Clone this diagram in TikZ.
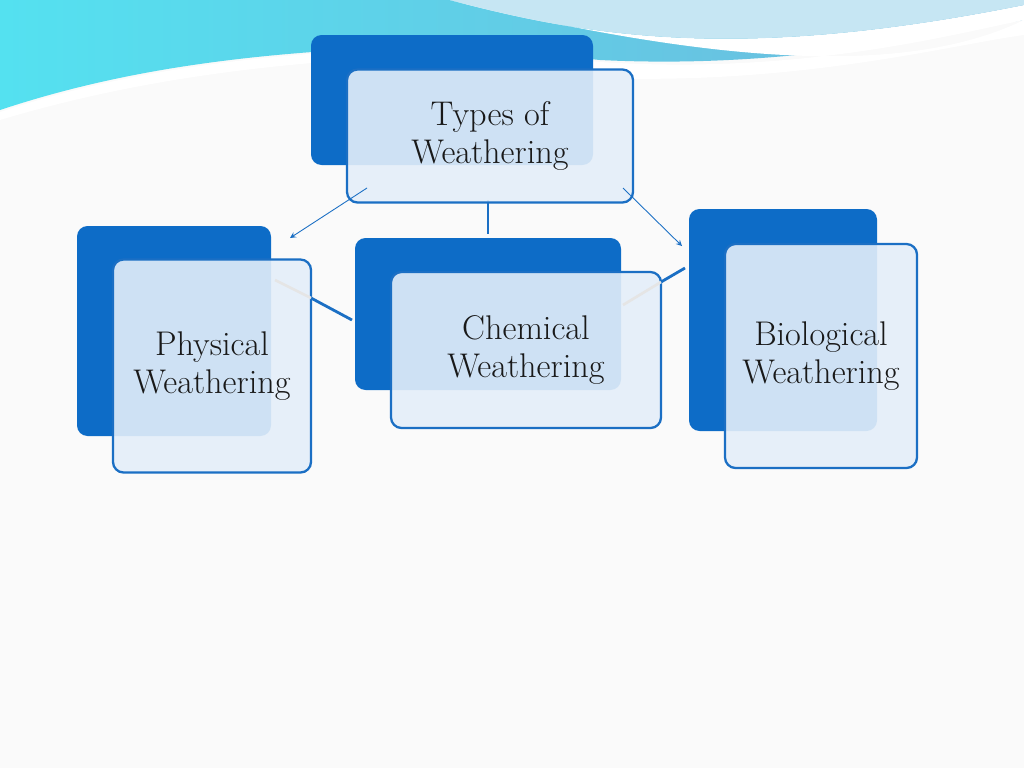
\documentclass[tikz,border=0pt]{standalone}
\usepackage{tikz}
\usetikzlibrary{positioning}
\definecolor{darkbox}{HTML}{0D6CC7}
\definecolor{lightbox}{HTML}{E4EEF9}
\definecolor{edgeblue}{HTML}{1B6FC4}
\definecolor{sky}{HTML}{8CCDE6}
\definecolor{skydeep}{HTML}{6FB8DC}
\tikzset{x=0.02cm, y=-0.02cm,
  back/.style={fill=darkbox, rounded corners=6pt, draw=none},
  front/.style={fill=lightbox, fill opacity=0.9, draw=edgeblue, line width=1.3pt, rounded corners=6pt, text opacity=1},
  label/.style={font=\fontsize{19.5}{22}\selectfont, align=center, text=black!90},
  thin arrow/.style={->, >=stealth, edgeblue, line width=0.5pt},
  joint/.style={edgeblue, line width=1.6pt}}
\begin{document}
\begin{tikzpicture}
\useasboundingbox (0,0) rectangle (1024,768);
\fill[white!96!gray] (0,0) rectangle (1024,768);
% banner
\shade[left color=sky!60!cyan, right color=skydeep] (0,0) -- (0,110) .. controls (150,60) and (300,50) .. (450,45) -- (600,60) .. controls (800,70) and (950,30) .. (1024,20) -- (1024,0) -- cycle;
\fill[white] (450,0) .. controls (600,40) and (750,60) .. (1024,5) -- (1024,20) .. controls (950,35) and (800,75) .. (600,62) -- (450,46) .. controls (300,52) and (150,62) .. (0,112) -- (0,120) .. controls (150,75) and (300,60) .. (450,55) -- (600,78) .. controls (800,85) and (950,45) .. (1024,35) -- (1024,20) .. controls (900,80) and (700,60) .. (450,0);
\fill[sky!50!white] (450,0) .. controls (600,40) and (750,60) .. (1024,5) -- (1024,0) -- cycle;
% connectors
\coordinate (tl) at (367,188);
\coordinate (tr) at (623,188);
\coordinate (pa) at (290,238);
\coordinate (ba) at (682,246);
\coordinate (cm) at (488,234);
\coordinate (pj) at (311,298);
\coordinate (cj) at (352,320);
\coordinate (bj) at (685,268);
\coordinate (cr) at (661,282);
\draw[joint] (488,200) -- (cm);
\draw[joint] (pj) -- (cj);
\draw[joint] (bj) -- (cr);
% boxes
\fill[back] (311,35) rectangle (593,165);
\node[front, minimum width=286*0.02cm, minimum height=133*0.02cm] (types) at (490,136) {};
\node[label] at (types) {Types of\\Weathering};
\fill[back] (77,226) rectangle (271,436);
\node[front, minimum width=198*0.02cm, minimum height=213*0.02cm] (physical) at (212,366) {};
\node[label] at (physical) {Physical\\Weathering};
\fill[back] (355,238) rectangle (621,390);
\node[front, minimum width=270*0.02cm, minimum height=156*0.02cm] (chemical) at (526,350) {};
\node[label] at (chemical) {Chemical\\Weathering};
\fill[back] (689,209) rectangle (877,431);
\node[front, minimum width=192*0.02cm, minimum height=224*0.02cm] (biological) at (821,356) {};
\node[label] at (biological) {Biological\\Weathering};
\draw[thin arrow] (tl) -- (pa);
\draw[thin arrow] (tr) -- (ba);
\draw[white!80!gray, line width=1.5pt] (275,280) -- (pj);
\draw[white!80!gray, line width=1.5pt] (623,305) -- (cr);
\end{tikzpicture}
\end{document}
